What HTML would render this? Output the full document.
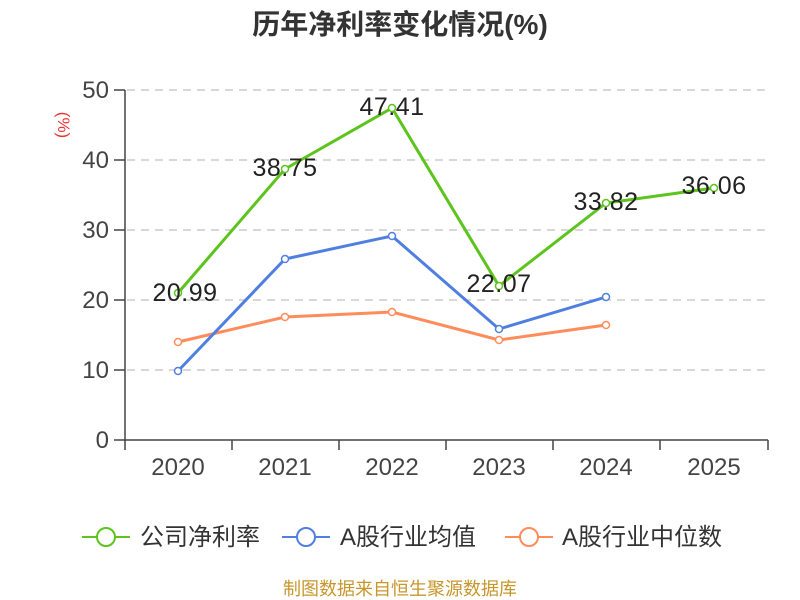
<!DOCTYPE html>
<html><head><meta charset="utf-8"><style>body{margin:0;background:#fff}svg{display:block}</style></head><body>
<svg width="800" height="600" xmlns="http://www.w3.org/2000/svg" font-family="Liberation Sans, Noto Sans CJK SC, sans-serif">
<text x="400" y="34" text-anchor="middle" font-size="28" font-weight="bold" fill="#333">历年净利率变化情况(%)</text>
<text x="0" y="0" transform="translate(58,125) rotate(90)" font-size="17" fill="#e33" text-anchor="middle">(%)</text>
<g stroke="#ccc" stroke-dasharray="8,6" stroke-width="1.5">
<line x1="127" x2="768" y1="90" y2="90"/><line x1="127" x2="768" y1="160" y2="160"/><line x1="127" x2="768" y1="230" y2="230"/><line x1="127" x2="768" y1="300" y2="300"/><line x1="127" x2="768" y1="370" y2="370"/></g>
<g stroke="#444" stroke-width="1.5">
<line x1="125" x2="125" y1="90" y2="441"/><line x1="125" x2="768" y1="440" y2="440"/>
<line x1="114" x2="125" y1="90" y2="90"/><line x1="114" x2="125" y1="160" y2="160"/><line x1="114" x2="125" y1="230" y2="230"/><line x1="114" x2="125" y1="300" y2="300"/><line x1="114" x2="125" y1="370" y2="370"/><line x1="114" x2="125" y1="440" y2="440"/>
<line x1="125" x2="125" y1="440" y2="450"/><line x1="232" x2="232" y1="440" y2="450"/><line x1="339" x2="339" y1="440" y2="450"/><line x1="446" x2="446" y1="440" y2="450"/><line x1="553" x2="553" y1="440" y2="450"/><line x1="660" x2="660" y1="440" y2="450"/><line x1="768" x2="768" y1="440" y2="450"/></g>
<g font-size="24" fill="#444" text-anchor="end">
<text x="109" y="98">50</text><text x="109" y="168">40</text><text x="109" y="238">30</text><text x="109" y="308">20</text><text x="109" y="378">10</text><text x="109" y="448">0</text></g>
<g font-size="24" fill="#444" text-anchor="middle">
<text x="178" y="475">2020</text><text x="285" y="475">2021</text><text x="392" y="475">2022</text><text x="499" y="475">2023</text><text x="606" y="475">2024</text><text x="714" y="475">2025</text></g>
<g fill="none" stroke-width="3">
<polyline stroke="#ff8c5a" points="178,342 285,317 392,312 499,340 606,325"/>
<polyline stroke="#4f7fe0" points="178,371 285,259 392,236 499,329 606,297"/>
<polyline stroke="#5cc41c" points="178,293 285,169 392,108 499,286 606,203 714,188"/></g>
<g fill="#fff" stroke-width="1.5">
<g stroke="#ff8c5a"><circle cx="178" cy="342" r="3.5"/><circle cx="285" cy="317" r="3.5"/><circle cx="392" cy="312" r="3.5"/><circle cx="499" cy="340" r="3.5"/><circle cx="606" cy="325" r="3.5"/></g>
<g stroke="#4f7fe0"><circle cx="178" cy="371" r="3.5"/><circle cx="285" cy="259" r="3.5"/><circle cx="392" cy="236" r="3.5"/><circle cx="499" cy="329" r="3.5"/><circle cx="606" cy="297" r="3.5"/></g>
<g stroke="#5cc41c"><circle cx="178" cy="293" r="3.5"/><circle cx="285" cy="169" r="3.5"/><circle cx="392" cy="108" r="3.5"/><circle cx="499" cy="286" r="3.5"/><circle cx="606" cy="203" r="3.5"/><circle cx="714" cy="188" r="3.5"/></g></g>
<g font-size="25" fill="#222" text-anchor="middle" letter-spacing="0.5">
<text x="185" y="301">20.99</text><text x="285" y="176">38.75</text><text x="392" y="115">47.41</text><text x="499" y="292">22.07</text><text x="606" y="210">33.82</text><text x="714" y="194">36.06</text></g>
<g stroke-width="2" fill="#fff">
<line x1="82" x2="130" y1="537" y2="537" stroke="#5cc41c"/><circle cx="106" cy="537" r="9" stroke="#5cc41c"/>
<line x1="282" x2="330" y1="537" y2="537" stroke="#4f7fe0"/><circle cx="306" cy="537" r="9" stroke="#4f7fe0"/>
<line x1="505" x2="553" y1="537" y2="537" stroke="#ff8c5a"/><circle cx="529" cy="537" r="9" stroke="#ff8c5a"/></g>
<g font-size="24" fill="#333">
<text x="140" y="545">公司净利率</text><text x="340" y="545">A股行业均值</text><text x="562" y="545">A股行业中位数</text></g>
<text x="400" y="595" text-anchor="middle" font-size="18" fill="#c8962a">制图数据来自恒生聚源数据库</text>
</svg>
</body></html>
